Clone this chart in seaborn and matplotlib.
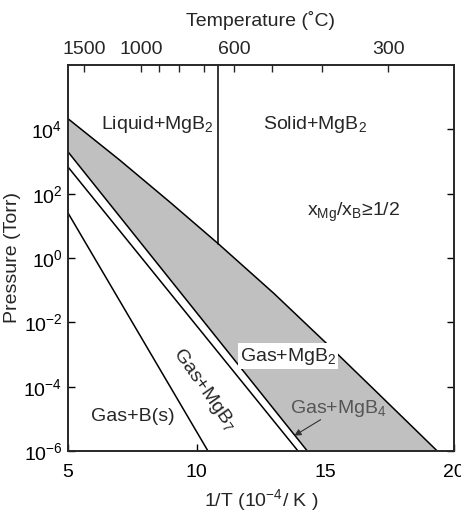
import numpy as np
import pandas as pd
from matplotlib import pyplot as plt
import seaborn as sns


# phase boundaries: x is 1/T in 1e-4/K, values are log10(P / Torr)
upper_x = [5, 7, 9, 10.83, 13, 15, 17, 19.35]
upper_logp = [4.33, 3.05, 1.71, 0.45, -1.10, -2.62, -4.17, -6.0]

mgb4_x = [5, 14.30]
mgb4_logp = [3.30, -6.0]

mgb7_x = [5, 13.94]
mgb7_logp = [2.83, -6.0]

boron_x = [5, 10.44]
boron_logp = [1.40, -6.0]

melt_x = [10.83, 10.83]
melt_logp = [0.45, 6.0]

y_exponents = [-6, -4, -2, 0, 2, 4]
top_celsius = [1500, 1000, 900, 800, 700, 600, 500, 400, 300]
top_labels = ['1500', '1000', '', '', '', '600', '', '', '300']


def boundary(x, logp):
    return pd.DataFrame({'x': x, 'p': np.power(10.0, logp)})


def setup_style():
    sns.set_theme(style='ticks')
    plt.rcParams['font.family'] = ['Liberation Sans', 'DejaVu Sans']
    plt.rcParams['mathtext.fontset'] = 'custom'
    plt.rcParams['mathtext.rm'] = 'Liberation Sans'
    plt.rcParams['mathtext.it'] = 'Liberation Sans:italic'
    plt.rcParams['mathtext.bf'] = 'Liberation Sans:bold'
    plt.rcParams['axes.linewidth'] = 1.2


def plot():
    setup_style()
    fig = plt.figure(figsize=(4.61, 5.12), dpi=100)
    ax = fig.add_axes([0.1475, 0.1191, 0.8373, 0.754])
    ax.set_yscale('log')

    # gray band between the upper boundary and the MgB2/MgB4 line
    poly_x = upper_x + mgb4_x[::-1]
    poly_p = list(np.power(10.0, upper_logp)) + list(np.power(10.0, mgb4_logp[::-1]))
    ax.fill(poly_x, poly_p, color='#c0c0c0', lw=0, zorder=1)

    for x, logp in [(upper_x, upper_logp), (mgb4_x, mgb4_logp), (mgb7_x, mgb7_logp),
                    (boron_x, boron_logp), (melt_x, melt_logp)]:
        sns.lineplot(data=boundary(x, logp), x='x', y='p', ax=ax, color='black',
                     lw=1.1, sort=False, estimator=None, zorder=2)

    ax.set_xlim(5, 20)
    ax.set_ylim(1e-6, 1e6)
    ax.set_xticks([5, 10, 15, 20])
    ax.set_yticks([10.0 ** e for e in y_exponents])
    ax.set_yticklabels([f'10$^{{{e}}}$' for e in y_exponents])
    ax.minorticks_off()
    ax.tick_params(axis='both', direction='in', length=5, width=1, labelsize=14,
                   colors='black', right=True, top=False)
    ax.tick_params(axis='x', pad=9)
    ax.tick_params(axis='y', pad=4)
    ax.set_xlabel('1/T (10$^{-4}$/ K )', fontsize=14, labelpad=5)
    ax.set_ylabel('Pressure (Torr)', fontsize=14, labelpad=2)

    top = ax.twiny()
    top.set_xlim(ax.get_xlim())
    top.set_xticks([1e4 / (t + 273.15) for t in top_celsius])
    top.set_xticklabels(top_labels)
    top.minorticks_off()
    top.tick_params(axis='x', direction='in', length=5, width=1, labelsize=14, pad=5)
    top.set_xlabel('Temperature (˚C)', fontsize=14, labelpad=11)

    ax.text(8.46, 10 ** 4.16, 'Liquid+MgB$_2$', fontsize=14, ha='center', va='center')
    ax.text(14.59, 10 ** 4.16, 'Solid+MgB$_2$', fontsize=14, ha='center', va='center')
    ax.text(16.1, 10 ** 1.43, 'x$_{\\mathrm{Mg}}$/x$_{\\mathrm{B}}$≥1/2', fontsize=14,
            ha='center', va='center')
    ax.text(13.55, 10 ** -3.05, 'Gas+MgB$_2$', fontsize=14, ha='center', va='center',
            bbox=dict(facecolor='white', edgecolor='none', pad=1.5), zorder=3)
    ax.text(15.5, 10 ** -4.67, 'Gas+MgB$_4$', fontsize=14, ha='center', va='center',
            color='#555555')
    ax.annotate('', xy=(13.70, 10 ** -5.57), xytext=(14.91, 10 ** -4.98),
                arrowprops=dict(arrowstyle='-|>', color='#333333', lw=0.8,
                                mutation_scale=10))
    ax.text(10.31, 10 ** -4.08, 'Gas+MgB$_7$', fontsize=14, ha='center', va='center',
            rotation=-55, rotation_mode='anchor')
    ax.text(7.53, 10 ** -4.93, 'Gas+B(s)', fontsize=14, ha='center', va='center')

    fig.savefig('out.png', dpi=100)


if __name__ == '__main__':
    plot()
